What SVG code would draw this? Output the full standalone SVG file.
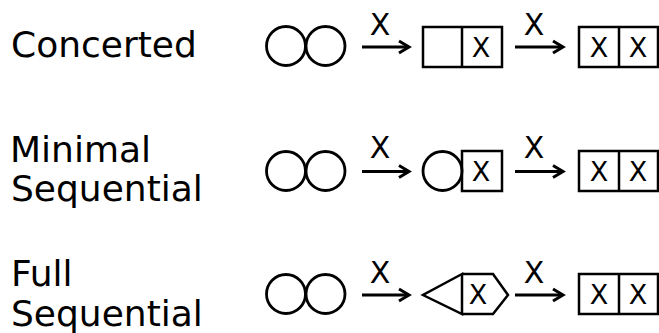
<svg xmlns="http://www.w3.org/2000/svg" width="659" height="333" viewBox="0 0 659 333">
<style>
.lbl{font-family:"DejaVu Sans",sans-serif;font-size:36px;fill:#000}
.x{font-family:"DejaVu Sans",sans-serif;font-size:30px;fill:#000;text-anchor:middle}
.bx{font-family:"DejaVu Sans",sans-serif;font-size:27px;fill:#000;text-anchor:middle}
.s{fill:none;stroke:#000;stroke-width:2.8}
.b{fill:none;stroke:#000;stroke-width:2.5}
.arr{fill:none;stroke:#000;stroke-width:3}
</style>
<defs>
<marker id="ah" markerUnits="userSpaceOnUse" markerWidth="14" markerHeight="16" refX="11" refY="7" orient="auto" viewBox="0 0 14 14">
<path d="M1,1 L11,7 L1,13" fill="none" stroke="#000" stroke-width="3"/>
</marker>
</defs>
<g id="labels">
<text class="lbl" x="11" y="57">Concerted</text>
<text class="lbl" x="10" y="162">Minimal</text>
<text class="lbl" x="11" y="201">Sequential</text>
<text class="lbl" x="11" y="286">Full</text>
<text class="lbl" x="11" y="326">Sequential</text>
</g>
<!-- Row 1 -->
<g id="r1-start">
<circle class="s" cx="286" cy="46" r="19.5"/>
<circle class="s" cx="325.5" cy="46" r="19.5"/>
</g>
<g id="r1-mid">
<rect class="b" x="423" y="27" width="79" height="40"/>
<line class="b" x1="462" y1="27" x2="462" y2="67"/>
<text class="bx" x="481" y="57">X</text>
</g>
<g id="r1-end">
<rect class="b" x="579" y="27" width="79" height="40"/>
<line class="b" x1="619" y1="27" x2="619" y2="67"/>
<text class="bx" x="599" y="57">X</text>
<text class="bx" x="638" y="57">X</text>
</g>
<!-- Row 2 -->
<g id="r2-start">
<circle class="s" cx="286" cy="171" r="19.5"/>
<circle class="s" cx="325.5" cy="171" r="19.5"/>
</g>
<g id="r2-mid">
<circle class="s" cx="442.5" cy="171" r="19.5"/>
<rect class="b" x="462" y="151" width="40" height="40"/>
<text class="bx" x="481" y="181">X</text>
</g>
<g id="r2-end">
<rect class="b" x="579" y="151" width="79" height="40"/>
<line class="b" x1="619" y1="151" x2="619" y2="191"/>
<text class="bx" x="599" y="181">X</text>
<text class="bx" x="638" y="181">X</text>
</g>
<!-- Row 3 -->
<g id="r3-start">
<circle class="s" cx="286" cy="294" r="19.5"/>
<circle class="s" cx="325.5" cy="294" r="19.5"/>
</g>
<g id="r3-mid">
<path class="b" d="M462,274 L423,295 L462,314 Z"/>
<path class="b" d="M462,274 L493,274 L508,295 L493,314 L462,314"/>
<text class="bx" x="478" y="304">X</text>
</g>
<g id="r3-end">
<rect class="b" x="579" y="274" width="79" height="40"/>
<line class="b" x1="619" y1="274" x2="619" y2="314"/>
<text class="bx" x="599" y="304">X</text>
<text class="bx" x="638" y="304">X</text>
</g>
<g id="connectors">
<line class="arr" x1="362" y1="47" x2="409" y2="47" marker-end="url(#ah)"/>
<line class="arr" x1="515" y1="47" x2="563" y2="47" marker-end="url(#ah)"/>
<line class="arr" x1="362" y1="171.5" x2="409" y2="171.5" marker-end="url(#ah)"/>
<line class="arr" x1="515" y1="171.5" x2="563" y2="171.5" marker-end="url(#ah)"/>
<line class="arr" x1="362" y1="295" x2="409" y2="295" marker-end="url(#ah)"/>
<line class="arr" x1="515" y1="295" x2="563" y2="295" marker-end="url(#ah)"/>
<text class="x" x="380" y="35">X</text>
<text class="x" x="534" y="35">X</text>
<text class="x" x="380" y="158">X</text>
<text class="x" x="534" y="158">X</text>
<text class="x" x="380" y="283">X</text>
<text class="x" x="534" y="283">X</text>
</g>
</svg>
